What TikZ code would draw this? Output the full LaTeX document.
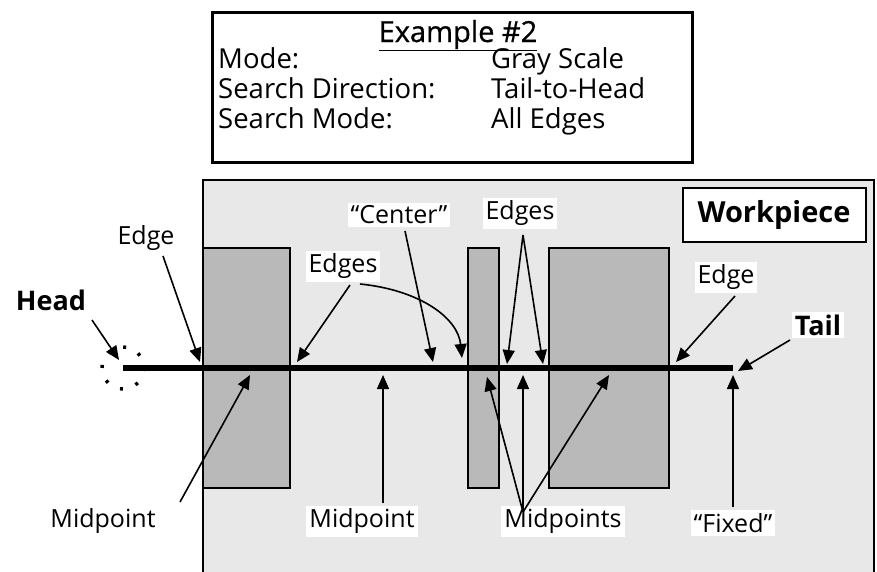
\documentclass[tikz,border=0pt]{standalone}
\usepackage{fontspec}
\setmainfont{Open Sans}
\usetikzlibrary{arrows.meta}

\begin{document}
\begin{tikzpicture}[x=1pt, y=-1pt,
    lbl/.style={fill=white, inner sep=3pt, font=\fontsize{25}{28}\selectfont},
    boldlbl/.style={lbl, font=\fontsize{27}{30}\selectfont\bfseries},
    infotext/.style={anchor=base west, inner sep=0pt, font=\fontsize{27.5}{30}\selectfont},
    pointer/.style={-{Triangle[length=14pt,width=12pt]}, line width=1.6pt},
    block/.style={draw, line width=2.5pt, fill=gray!55},
    headring/.style={line width=3.5pt, dash pattern=on 3pt off 13.5pt}
]
    \useasboundingbox (0,0) rectangle (877,571);

    % Settings box
    \draw[line width=3pt] (212,12) rectangle (692,162);
    \node[infotext, anchor=base, font=\fontsize{29}{30}\selectfont\addfontfeatures{FakeBold=0.8}]
          (title) at (458,42) {\underline{Example \#2}};
    \node[infotext] (mode)    at (218,68)  {Mode:};
    \node[infotext] (dir)     at (218,98)  {Search Direction:};
    \node[infotext] (smode)   at (218,128) {Search Mode:};
    \node[infotext] (modev)   at (491,68)  {Gray Scale};
    \node[infotext] (dirv)    at (491,98)  {Tail-to-Head};
    \node[infotext] (smodev)  at (491,128) {All Edges};

    % Workpiece and the three blocks
    \draw[line width=2pt, fill=gray!18] (203,180) rectangle (874,590);
    \node[draw, line width=2pt, fill=white, inner sep=0pt, minimum width=183pt,
          minimum height=54pt, font=\fontsize{29}{30}\selectfont\bfseries]
          (work) at (774,215) {Workpiece};
    \draw[block] (203,248) rectangle (290,488);
    \draw[block] (468,248) rectangle (499,488);
    \draw[block] (549,248) rectangle (669,488);

    % Points on the search line
    \coordinate (head)  at (123,368);
    \coordinate (tail)  at (733,368);
    \coordinate (e1)    at (200,362);
    \coordinate (e2)    at (297,362);
    \coordinate (ctr)   at (433,362);
    \coordinate (e3)    at (462,358);
    \coordinate (e4)    at (507,364);
    \coordinate (e5)    at (543,364);
    \coordinate (e6)    at (676,362);
    \coordinate (tailp) at (738,371);
    \coordinate (m1)    at (250,375);
    \coordinate (m2)    at (383,375);
    \coordinate (m3)    at (487,377);
    \coordinate (m4)    at (523,375);
    \coordinate (m5)    at (609,375);
    \coordinate (fix)   at (733,375);
    \coordinate (headp) at (119,360);

    % Labels
    \node[boldlbl] (headl)  at (51,300)  {Head};
    \node[lbl]     (edgel)  at (146,238) {Edge};
    \node[lbl]     (edgesl) at (343,266) {Edges};
    \node[lbl]     (centl)  at (399,215) {``Center''};
    \node[lbl]     (edgesm) at (520,213) {Edges};
    \node[lbl]     (edger)  at (726,277) {Edge};
    \node[boldlbl] (taill)  at (818,325) {Tail};
    \node[lbl]     (mid1)   at (103,521) {Midpoint};
    \node[lbl]     (mid2)   at (362,521) {Midpoint};
    \node[lbl]     (mids)   at (563,521) {Midpoints};
    \node[lbl]     (fixl)   at (733,523) {``Fixed''};

    % Pointers from above
    \draw[pointer] (92,320) -- (headp);
    \draw[pointer] (163,256) -- (e1);
    \draw[pointer] (350,285) -- (e2);
    \draw[pointer] (360,284) .. controls (420,290) and (458,318) .. (e3);
    \draw[pointer] (405,231) -- (ctr);
    \draw[pointer] (523,235) -- (e4);
    \draw[pointer] (523,235) -- (e5);
    \draw[pointer] (735,296) -- (e6);
    \draw[pointer] (790,340) -- (tailp);

    % Pointers from below
    \draw[pointer] (180,502) -- (m1);
    \draw[pointer] (383,503) -- (m2);
    \draw[pointer] (523,512) -- (m3);
    \draw[pointer] (523,512) -- (m4);
    \draw[pointer] (523,512) -- (m5);
    \draw[pointer] (733,507) -- (fix);

    % Search line and head ring
    \draw[headring] (head) circle (21);
    \draw[line width=6pt] (head) -- (tail);
\end{tikzpicture}
\end{document}
